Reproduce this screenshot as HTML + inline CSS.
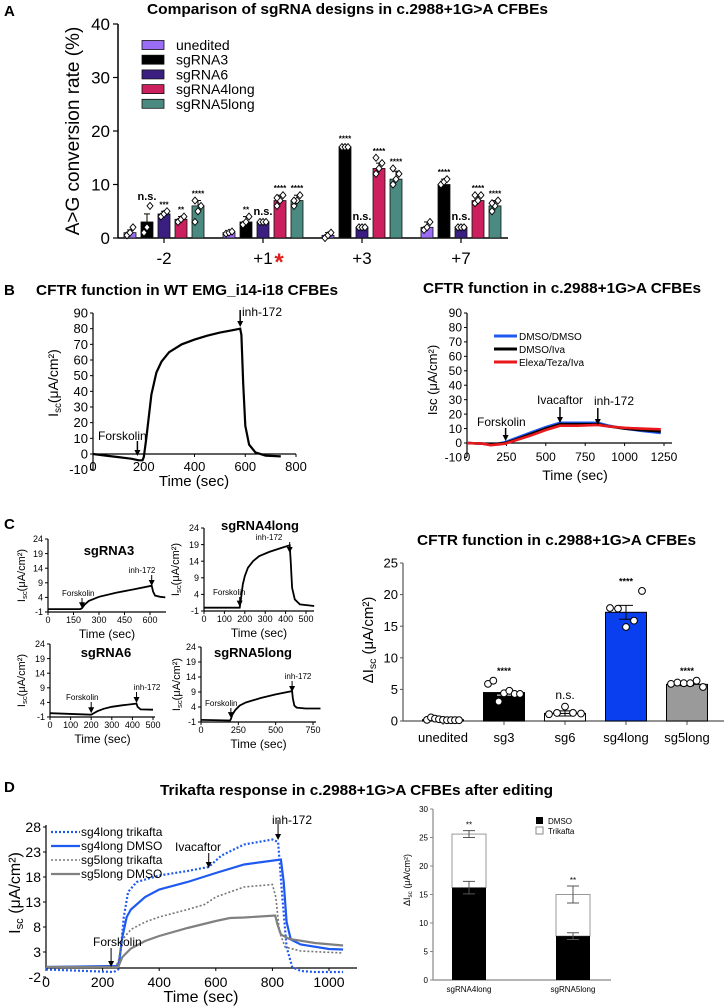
<!DOCTYPE html>
<html><head><meta charset="utf-8"><style>
html,body{margin:0;padding:0;background:#fff;}
svg{display:block;font-family:"Liberation Sans",Arial,sans-serif;}
</style></head><body>
<svg id="fig" width="724" height="1006" viewBox="0 0 724 1006" xmlns="http://www.w3.org/2000/svg">
<g font-weight="bold" fill="#000">
<text x="4" y="16" font-size="15">A</text>
<text x="147" y="14" font-size="15" textLength="401" lengthAdjust="spacingAndGlyphs">Comparison of sgRNA designs in c.2988+1G&gt;A CFBEs</text>
<text x="4" y="295" font-size="15">B</text>
<text x="36" y="295" font-size="15" textLength="302" lengthAdjust="spacingAndGlyphs">CFTR function in WT EMG_i14-i18 CFBEs</text>
<text x="423" y="293" font-size="15" textLength="278" lengthAdjust="spacingAndGlyphs">CFTR function in c.2988+1G&gt;A CFBEs</text>
<text x="4" y="529" font-size="15">C</text>
<text x="417" y="545" font-size="15" textLength="279" lengthAdjust="spacingAndGlyphs">CFTR function in c.2988+1G&gt;A CFBEs</text>
<text x="4" y="792" font-size="15">D</text>
<text x="160" y="795" font-size="15" textLength="393" lengthAdjust="spacingAndGlyphs">Trikafta response in c.2988+1G&gt;A CFBEs after editing</text>
</g>
<g id="root"></g>
</svg>
<script>
// ---------- Panel A data ----------
const aGroups = ['-2', '+1', '+3', '+7'];
const aSeries = ['unedited', 'sgRNA3', 'sgRNA6', 'sgRNA4long', 'sgRNA5long'];
const aUnedited = [1, 1, 0.5, 2];
const aSg3 = [3, 3, 17, 10];
const aSg6 = [4.5, 3, 2, 2];
const aSg4 = [3.5, 7, 13, 7];
const aSg5 = [6, 7, 11, 6];
const aErrTop = [[1.5, 4.5, 5, 4, 7], [1.2, 4, 3.2, 8, 8], [1, 17.3, 2.2, 14, 12.5], [3, 11, 2.2, 8, 7]];
const aSig = [['', 'n.s.', '***', '**', '****'], ['', '**', 'n.s.', '****', '****'], ['', '****', 'n.s.', '****', '****'], ['', '****', 'n.s.', '****', '****']];
const aDots = [
  [[0.5, 1, 2], [1, 2, 6], [4, 4.5, 5], [3, 3.5, 4], [3, 5, 6, 7]],
  [[0.8, 1, 1.2], [2.5, 3, 4], [3, 3, 3], [6, 7, 8, 7.5], [6, 7, 8, 7]],
  [[0, 0.5, 1], [17, 17, 17], [2, 2, 2], [12, 13, 14, 15], [10, 11, 12, 13]],
  [[1.5, 2, 3], [10, 10.5, 11], [2, 2, 2], [6.5, 7, 8, 8], [5, 6, 7, 6.5]]
];
const aTicks = [0, 10, 20, 30, 40];
// ---------- Panel B data ----------
const bLeftT = [0, 50, 100, 150, 180, 195, 200, 210, 230, 250, 270, 300, 350, 400, 450, 500, 550, 580, 585, 592, 600, 615, 640, 680, 740];
const bLeftV = [0, -1, -2, -3, -4, -4, -2, 10, 38, 52, 59, 65, 70, 73, 75.5, 77.5, 79, 80, 76, 45, 18, 6, 1, -1, -1.5];
const bLeftYTicks = [-10, 0, 10, 20, 30, 40, 50, 60, 70, 80, 90];
const bLeftXTicks = [0, 200, 400, 600, 800];
const bRightT = [0, 100, 150, 200, 240, 300, 400, 500, 590, 700, 830, 900, 1000, 1100, 1230];
const bBlue = [0, -0.5, -1, -0.5, 0.5, 3, 7, 11, 14, 14, 14, 12, 10, 8.5, 7];
const bBlack = [0, -0.5, -1, -0.5, 0, 2, 6, 10, 13, 13, 13, 11.5, 10, 9, 8];
const bRed = [0, -0.5, -1.5, -1, -0.5, 1.5, 5, 9, 12, 12, 12.5, 11.5, 10.5, 10, 9.5];
const bRightYTicks = [-10, 0, 10, 20, 30, 40, 50, 60, 70, 80, 90];
const bRightXTicks = [0, 250, 500, 750, 1000, 1250];
// ---------- Panel C small traces ----------
const cYTicks = [-1, 4, 9, 14, 19, 24];
const c3T = [0, 190, 200, 215, 240, 300, 400, 500, 610, 618, 630, 660, 690];
const c3V = [0, 0, 0.3, 1.5, 2.8, 4.2, 5.6, 6.7, 8, 6, 4.6, 4.2, 4];
const c3XTicks = [0, 150, 300, 450, 600];
const c4T = [0, 175, 182, 190, 200, 215, 240, 270, 320, 380, 420, 425, 432, 445, 470, 540];
const c4V = [0, 0, 3, 7, 9.5, 12, 14, 15.5, 16.8, 18, 18.8, 14, 6, 2.5, 1, 0.5];
const c4XTicks = [0, 100, 200, 300, 400, 500];
const c6T = [0, 200, 210, 230, 260, 300, 350, 420, 425, 440, 500];
const c6V = [0.3, -0.2, 0.2, 1, 1.8, 2.5, 3, 3.6, 2.5, 1.6, 1.5];
const c6XTicks = [0, 100, 200, 300, 400, 500];
const c5T = [0, 195, 200, 210, 230, 260, 300, 400, 500, 610, 615, 625, 640, 700, 800];
const c5V = [-0.3, -0.5, 0, 1.5, 3, 4.5, 5.5, 7, 8.2, 9.3, 7, 4.5, 3.8, 3.5, 3.5];
const c5XTicks = [0, 250, 500, 750];
// ---------- Panel C bar chart ----------
const cCats = ['unedited', 'sg3', 'sg6', 'sg4long', 'sg5long'];
const cMeans = [0.2, 4.5, 1.2, 17.2, 5.8];
const cErr = [0.1, 0.4, 0.4, 1.1, 0.2];
const cSig = ['', '****', 'n.s.', '****', '****'];
const cPoints = [
  [0.1, 0.5, 0.3, 0.2, 0.1, 0.05, 0.05, 0.05, 0.05],
  [5.8, 6.3, 3, 4.3, 4.7, 4.2, 4.2],
  [1, 1.2, 2.2, 1.2, 1.1],
  [17.8, 17.7, 14.8, 15.8, 20.5],
  [5.8, 6, 5.9, 5.9, 6.3, 5.3]
];
const cBarTicks = [0, 5, 10, 15, 20, 25];
// ---------- Panel D ----------
const dT1 = [0, 240, 255, 265, 275, 290, 320, 400, 500, 575, 620, 700, 800, 820, 835, 850, 870, 900, 950, 1050];
const dV1 = [-0.5, -1, -0.5, 4, 10, 15, 17, 18.3, 19.2, 20, 22.3, 24.5, 25.5, 25, 14, 4, 0, -0.8, -1, -1];
const dT2 = [0, 250, 258, 270, 285, 300, 350, 400, 500, 600, 700, 830, 840, 850, 865, 900, 1000, 1050];
const dV2 = [0, 0.2, 1, 6, 10, 11.5, 14, 15.5, 17, 18.8, 20.5, 21.5, 17, 9, 5.5, 4.5, 3.6, 3.5];
const dT3 = [0, 245, 255, 270, 300, 350, 400, 500, 560, 600, 700, 800, 812, 825, 845, 900, 1050];
const dV3 = [0, 0, 1, 5.5, 7.5, 9, 10, 11.5, 12.5, 14, 16, 16.5, 14, 7, 4, 3.2, 2.8];
const dT4 = [0, 255, 270, 300, 350, 400, 500, 600, 650, 700, 810, 818, 830, 860, 950, 1050];
const dV4 = [0, 0, 2, 3.7, 5.2, 6.2, 7.8, 9.2, 9.8, 9.9, 10.3, 8.5, 6.5, 5.6, 4.8, 4.3];
const dYTicks = [-2, 3, 8, 13, 18, 23, 28];
const dXTicks = [0, 200, 400, 600, 800, 1000];
const dCats = ['sgRNA4long', 'sgRNA5long'];
const dDmso = [16.2, 7.7];
const dDmsoErr = [1.1, 0.6];
const dTotal = [25.6, 15];
const dTotalErr = [0.6, 1.5];
const dSig = ['**', '**'];
const dBarTicks = [0, 5, 10, 15, 20, 25, 30];

// ---------- helpers ----------
const NS = 'http://www.w3.org/2000/svg';
const root = document.getElementById('root');
function mk(tag, attrs, parent) {
  const e = document.createElementNS(NS, tag);
  for (const k in attrs) e.setAttribute(k, attrs[k]);
  (parent || root).appendChild(e);
  return e;
}
function lin(d0, d1, r0, r1) { return v => r0 + (v - d0) * (r1 - r0) / (d1 - d0); }
function txt(x, y, s, size, anchor, parent, extra) {
  const a = Object.assign({ x: x, y: y, 'font-size': size, 'text-anchor': anchor || 'middle', fill: '#000' }, extra || {});
  const t = mk('text', a, parent);
  t.textContent = s;
  return t;
}
function pathFrom(ts, vs, xs, ys) {
  return ts.map((t, i) => (i ? 'L' : 'M') + xs(t).toFixed(1) + ',' + ys(vs[i]).toFixed(1)).join('');
}
function arrow(x, y0, y1, parent, w) {
  const g = mk('g', {}, parent);
  
  
  mk('line', { x1: x, y1: y0, x2: x, y2: y1 - 4, stroke: '#000', 'stroke-width': w || 1.5 }, g);
  mk('path', { d: `M${x - 3},${y1 - 6}L${x + 3},${y1 - 6}L${x},${y1}Z`, fill: '#000' }, g);
}
function yTitle(x, y, main, sub, rest, size, parent) {
  const t = mk('text', { x: 0, y: 0, 'font-size': size, 'text-anchor': 'middle', transform: `translate(${x},${y}) rotate(-90)` }, parent);
  
  
  const a = mk('tspan', {}, t); a.textContent = main;
  if (sub) { const b = mk('tspan', { 'font-size': size * 0.7, dy: size * 0.2 }, t); b.textContent = sub; const c = mk('tspan', { dy: -size * 0.2 }, t); c.textContent = rest; }
  else { const c = mk('tspan', {}, t); c.textContent = rest; }
  return t;
}
function axes(g, x0, x1, yb, ytop, ybot, xs, ys, yticks, xticks, fs, xAxisY, tickColor) {
  const col = tickColor || '#000';
  const ya = mk('line', { x1: x0, y1: ytop, x2: x0, y2: ybot, stroke: col, 'stroke-width': 1.2 }, g);
  
  
  const xa = mk('line', { x1: x0, y1: xAxisY, x2: x1, y2: xAxisY, stroke: col, 'stroke-width': 1.2 }, g);
  
  
  yticks.forEach(v => {
    mk('line', { x1: x0 - 3, y1: ys(v), x2: x0, y2: ys(v), stroke: col, 'stroke-width': 1 }, g);
    const t = txt(x0 - 5, ys(v) + fs * 0.35, String(v), fs, 'end', g);
    
    
  });
  (xticks || []).forEach(v => {
    mk('line', { x1: xs(v), y1: xAxisY, x2: xs(v), y2: xAxisY + 3, stroke: col, 'stroke-width': 1 }, g);
    const t = txt(xs(v), yb, String(v), fs, 'middle', g);
    
    
  });
}

// ================= Panel A =================
(function () {
  const g = mk('g', {});
  
  
  const ys = lin(0, 40, 238, 24);
  const colors = ['#9b6cf5', '#000000', '#3a1e80', '#cc1f5e', '#4b8a80'];
  const series = [aUnedited, aSg3, aSg6, aSg4, aSg5];
  const ya = mk('line', { x1: 118, y1: 24, x2: 118, y2: 238, stroke: '#000', 'stroke-width': 1.5 }, g);
  
  
  const xa = mk('line', { x1: 118, y1: 238, x2: 508, y2: 238, stroke: '#000', 'stroke-width': 1.5 }, g);
  
  
  aTicks.forEach(v => {
    mk('line', { x1: 113, y1: ys(v), x2: 118, y2: ys(v), stroke: '#000', 'stroke-width': 1.2 }, g);
    const t = txt(110, ys(v) + 6, String(v), 17, 'end', g);
    
    
  });
  const yt = mk('text', { x: 0, y: 0, 'font-size': 19, 'text-anchor': 'middle', transform: 'translate(79,131) rotate(-90)' }, g);
  yt.textContent = 'A>G conversion rate (%)';
  
  
  aGroups.forEach((gr, i) => {
    const cx = 164 + i * 99;
    mk('line', { x1: cx, y1: 238, x2: cx, y2: 243, stroke: '#000', 'stroke-width': 1.2 }, g);
    const t = txt(cx, 264, gr, 17, 'middle', g);
    
    
    if (gr === '+1') {
      const s = txt(cx + 16, 270, '*', 24, 'middle', g, { fill: '#e0201e', 'font-weight': 'bold' });
      
      
    }
    series.forEach((arr, j) => {
      const bx = cx + (j - 2) * 17;
      const v = arr[i];
      const r = mk('rect', { x: bx - 6, y: ys(v), width: 12, height: ys(0) - ys(v), fill: colors[j], stroke: '#111', 'stroke-width': 0.8 }, g);
      
      
      const et = aErrTop[i][j];
      mk('line', { x1: bx, y1: ys(v), x2: bx, y2: ys(et), stroke: '#000', 'stroke-width': 1 }, g);
      mk('line', { x1: bx - 3, y1: ys(et), x2: bx + 3, y2: ys(et), stroke: '#000', 'stroke-width': 1 }, g);
      aDots[i][j].forEach((d, k) => {
        const dx = bx + ((k % 3) - 1) * 3;
        const p = mk('path', { d: `M${dx},${ys(d) - 3.5}L${dx + 3},${ys(d)}L${dx},${ys(d) + 3.5}L${dx - 3},${ys(d)}Z`, fill: '#fff', stroke: '#000', 'stroke-width': 0.9 }, g);
        
        
      });
      if (aSig[i][j]) {
        const top = Math.max(et, ...aDots[i][j]);
        const isNs = aSig[i][j] === 'n.s.';
        const s = txt(bx, ys(top) - (isNs ? 6 : 4), aSig[i][j], isNs ? 11 : 8, 'middle', g, { 'font-weight': 'bold' });
        
        
      }
    });
  });
  aSeries.forEach((s, j) => {
    const ly = 45 + j * 14.7;
    const lg = mk('g', {}, g);
    
    
    mk('rect', { x: 142, y: ly - 4.5, width: 22, height: 9, fill: colors[j], stroke: '#111', 'stroke-width': 0.8 }, lg);
    txt(176, ly + 5, s, 14, 'start', lg);
  });
})();

// ================= Panel B left =================
(function () {
  const g = mk('g', {});
  
  
  const xs = lin(0, 800, 93, 296);
  const ys = lin(0, 90, 454, 313);
  axes(g, 93, 296, 471, 313, 470, xs, ys, bLeftYTicks, bLeftXTicks, 13, 454);
  const p = mk('path', { d: pathFrom(bLeftT, bLeftV, xs, ys), fill: 'none', stroke: '#000', 'stroke-width': 2.2 }, g);
  
  
  const tt = txt(194, 486, 'Time (sec)', 15, 'middle', g);
  
  
  yTitle(58, 383, 'I', 'sc', '(μA/cm²)', 14, g);
  const f = txt(98, 440, 'Forskolin', 12, 'start', g);
  
  
  arrow(xs(175), 441, 456, g);
  const ih = txt(242, 316, 'inh-172', 12, 'start', g);
  
  
  arrow(xs(580), 310, 327, g);
})();

// ================= Panel B right =================
(function () {
  const g = mk('g', {});
  
  
  const xs = lin(0, 1250, 467, 664);
  const ys = lin(0, 90, 443, 313);
  axes(g, 467, 672, 461, 313, 457, xs, ys, bRightYTicks, bRightXTicks, 12, 443);
  const cols = ['#1f5af0', '#000', '#e8181c'];
  const names = ['DMSO/DMSO', 'DMSO/Iva', 'Elexa/Teza/Iva'];
  [bBlue, bBlack, bRed].forEach((arr, i) => {
    const p = mk('path', { d: pathFrom(bRightT, arr, xs, ys), fill: 'none', stroke: cols[i], 'stroke-width': 2.6 }, g);
    
    
    const lg = mk('g', {}, g);
    
    
    mk('line', { x1: 494, y1: 336 + i * 13, x2: 517, y2: 336 + i * 13, stroke: cols[i], 'stroke-width': 3 }, lg);
    txt(519, 340 + i * 13, names[i], 10, 'start', lg);
  });
  const tt = txt(575, 480, 'Time (sec)', 14, 'middle', g);
  
  
  yTitle(437, 380, 'Isc (μA/cm²)', '', '', 13, g);
  const f = txt(477, 426, 'Forskolin', 12, 'start', g);
  
  
  arrow(xs(245), 428, 441, g);
  const iv = txt(560, 404, 'Ivacaftor', 12, 'middle', g);
  
  
  arrow(xs(590), 407, 423, g);
  const ih = txt(614, 405, 'inh-172', 12, 'middle', g);
  
  
  arrow(xs(830), 408, 425, g);
})();

// ================= Panel C small traces =================
function smallTrace(name, title, tx, ty, ax, axEnd, yTop, yBot, xMax, xMaxPx, ts, vs, xticks, fx, ftx, fty, ix, itx, ity, ytx) {
  const g = mk('g', {});
  
  
  const xs = lin(0, xMax, ax, xMaxPx);
  const ys = lin(-1, 24, yBot, yTop);
  axes(g, ax, axEnd, yBot + 11, yTop, yBot, xs, ys, cYTicks, xticks, 9, yBot);
  const p = mk('path', { d: pathFrom(ts, vs, xs, ys), fill: 'none', stroke: '#000', 'stroke-width': 1.8 }, g);
  
  
  const t = txt(tx, ty, title, 13, 'middle', g, { 'font-weight': 'bold' });
  
  
  const tm = txt((ax + axEnd) / 2, yBot + 26, 'Time (sec)', 12, 'middle', g);
  
  
  yTitle(ytx, (yTop + yBot) / 2, 'I', 'sc', '(μA/cm²)', 11, g);
  const f = txt(ftx, fty, 'Forskolin', 8, 'start', g);
  
  
  arrow(xs(fx), fty + 2, ys(0.3), g, 1);
  const ih = txt(itx, ity, 'inh-172', 8, 'middle', g);
  
  
  arrow(xs(ix), ity + 2, ity + 13, g, 1);
}
smallTrace('subplot-sgrna3', 'sgRNA3', 109, 555, 48, 166, 539, 612, 600, 150, c3T, c3V, c3XTicks, 200, 62, 596, 610, 142, 573, 25);
smallTrace('subplot-sgrna4long', 'sgRNA4long', 260, 530, 204, 314, 528, 611, 500, 306, c4T, c4V, c4XTicks, 175, 213, 595, 420, 269, 540, 179);
smallTrace('subplot-sgrna6', 'sgRNA6', 106, 657, 50, 155, 644, 717, 500, 153, c6T, c6V, c6XTicks, 200, 66, 700, 420, 147, 690, 25);
smallTrace('subplot-sgrna5long', 'sgRNA5long', 253, 657, 201, 316, 647, 722, 750, 313, c5T, c5V, c5XTicks, 200, 205, 706, 610, 298, 679, 180);

// ================= Panel C bar chart =================
(function () {
  const g = mk('g', {});
  
  
  const ys = lin(0, 25, 721, 563);
  const cols = ['#ffffff', '#000000', '#ffffff', '#0a3ff0', '#9a9a9a'];
  axes(g, 403, 726, 0, 563, 721, null, ys, cBarTicks, null, 13, 721, '#555');
  cCats.forEach((c, i) => {
    const cx = 443 + i * 61;
    mk('line', { x1: cx, y1: 721, x2: cx, y2: 725, stroke: '#555' }, g);
    const lt = txt(cx, 742, c, 13, 'middle', g);
    
    
    const v = cMeans[i];
    const r = mk('rect', { x: cx - 20.5, y: ys(v), width: 41, height: ys(0) - ys(v), fill: cols[i], stroke: '#000', 'stroke-width': 1 }, g);
    
    
    const e = cErr[i];
    mk('path', { d: `M${cx},${ys(v - e)}V${ys(v + e)}M${cx - 7},${ys(v + e)}H${cx + 7}M${cx - 7},${ys(v - e)}H${cx + 7}`, stroke: i === 1 ? '#fff' : '#000', 'stroke-width': 1, fill: 'none' }, g);
    const pts = cPoints[i];
    pts.forEach((pv, k) => {
      const px = cx - 16 + k * (32 / Math.max(1, pts.length - 1));
      const c2 = mk('circle', { cx: px, cy: ys(pv) - 0.5, r: 3.4, fill: '#fff', stroke: '#000', 'stroke-width': 1 }, g);
      
      
    });
    if (cSig[i]) {
      const top = Math.max(v + e, ...pts);
      const isNs = cSig[i] === 'n.s.';
      const s = txt(cx, ys(top) - (isNs ? 8 : 7), cSig[i], isNs ? 12 : 9, 'middle', g, isNs ? {} : { 'font-weight': 'bold' });
      
      
    }
  });
  yTitle(373, 640, 'ΔI', 'sc', ' (μA/cm²)', 15, g);
})();

// ================= Panel D left =================
(function () {
  const g = mk('g', {});
  
  
  const xs = lin(0, 1000, 46, 329);
  const ys = lin(-2, 28, 977, 827);
  axes(g, 46, 357, 987, 825, 968, xs, ys, dYTicks, dXTicks, 14, ys(-0.2));
  const tt = txt(201, 1002, 'Time (sec)', 16, 'middle', g);
  
  
  yTitle(20, 893, 'I', 'sc', ' (μA/cm²)', 16, g);
  const defs = [
    [dT1, dV1, '#1f5af0', '2 2', 'sg4long trikafta'],
    [dT2, dV2, '#1f5af0', '', 'sg4long DMSO'],
    [dT3, dV3, '#777', '2 2', 'sg5long trikafta'],
    [dT4, dV4, '#808080', '', 'sg5long DMSO']
  ];
  defs.forEach((d, i) => {
    const p = mk('path', { d: pathFrom(d[0], d[1], xs, ys), fill: 'none', stroke: d[2], 'stroke-width': i === 2 ? 1.6 : 2.2, 'stroke-dasharray': d[3] }, g);
    
    
    const lg = mk('g', {}, g);
    
    
    const ly = 832 + i * 14;
    mk('line', { x1: 51, y1: ly, x2: 80, y2: ly, stroke: d[2], 'stroke-width': i === 2 ? 1.6 : 2.2, 'stroke-dasharray': d[3] }, lg);
    txt(81, ly + 4, d[4], 12, 'start', lg);
  });
  const f = txt(93, 946, 'Forskolin', 12, 'start', g);
  
  
  arrow(xs(230), 948, 967, g, 1);
  const iv = txt(198, 851, 'Ivacaftor', 12, 'middle', g);
  
  
  arrow(xs(575), 853, 868, g, 1);
  const ih = txt(292, 824, 'inh-172', 12, 'middle', g);
  
  
  arrow(xs(820), 820, 840, g, 1);
})();

// ================= Panel D right =================
(function () {
  const g = mk('g', {});
  
  
  const ys = lin(0, 30, 980, 809);
  axes(g, 433, 611, 0, 809, 980, null, ys, dBarTicks, null, 8, 980, '#888');
  dCats.forEach((c, i) => {
    const cx = 469 + i * 104;
    const d = dDmso[i], tot = dTotal[i];
    const w = mk('rect', { x: cx - 17, y: ys(tot), width: 34, height: ys(d) - ys(tot), fill: '#fff', stroke: '#999', 'stroke-width': 1 }, g);
    
    
    const b = mk('rect', { x: cx - 17, y: ys(d), width: 34, height: ys(0) - ys(d), fill: '#000' }, g);
    
    
    [[d, dDmsoErr[i]], [tot, dTotalErr[i]]].forEach(pe => {
      mk('path', { d: `M${cx},${ys(pe[0] - pe[1])}V${ys(pe[0] + pe[1])}M${cx - 6},${ys(pe[0] + pe[1])}H${cx + 6}M${cx - 6},${ys(pe[0] - pe[1])}H${cx + 6}`, stroke: '#555', fill: 'none', 'stroke-width': 1 }, g);
    });
    const s = txt(cx, ys(tot + dTotalErr[i]) - 3, dSig[i], 8, 'middle', g);
    
    
    const l = txt(cx, 992, c, 8, 'middle', g);
    
    
  });
  const l1 = mk('g', {}, g);
  
  
  mk('rect', { x: 536, y: 817, width: 7, height: 7, fill: '#000' }, l1);
  txt(548, 824, 'DMSO', 8, 'start', l1);
  const l2 = mk('g', {}, g);
  
  
  mk('rect', { x: 536, y: 827, width: 7, height: 7, fill: '#fff', stroke: '#888' }, l2);
  txt(548, 834, 'Trikafta', 8, 'start', l2);
  yTitle(410, 880, 'ΔI', 'sc', ' (μA/cm²)', 9, g);
})();
</script>
</body></html>
